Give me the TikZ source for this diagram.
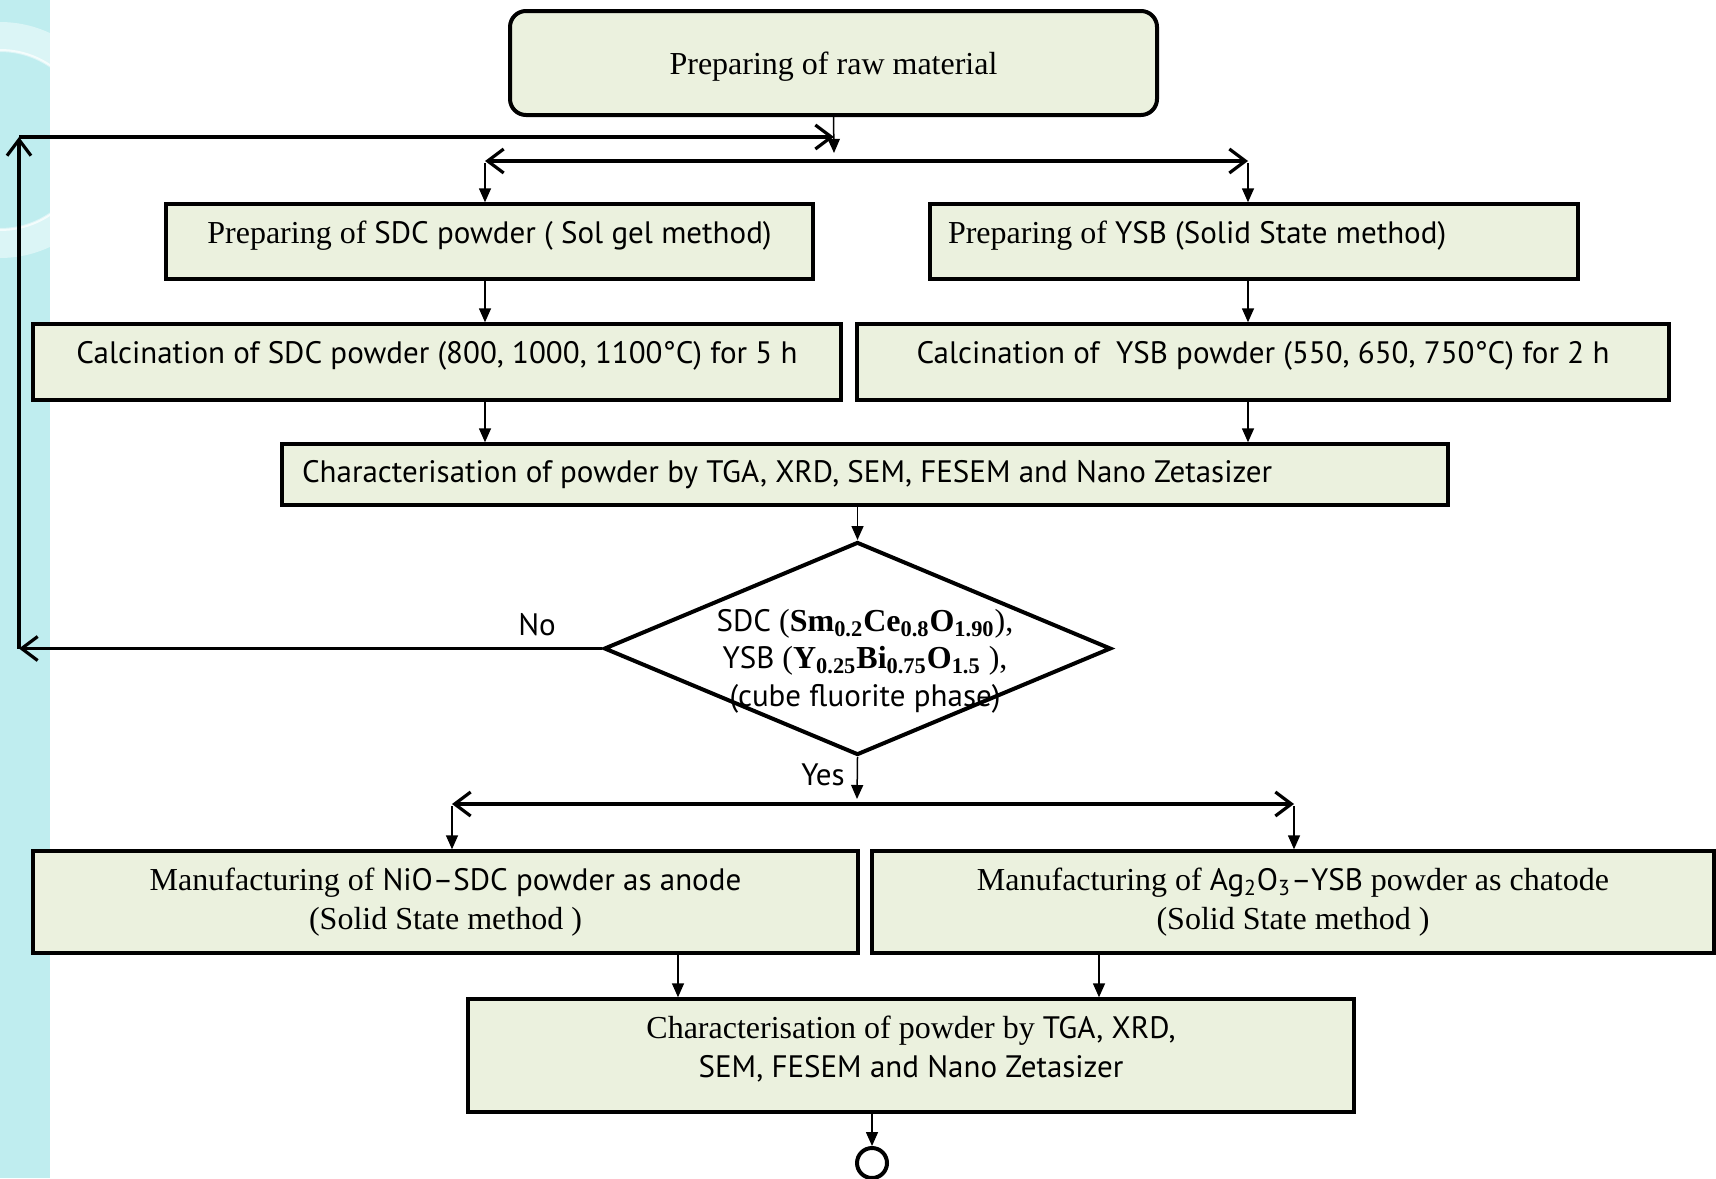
\documentclass[tikz,border=0pt]{standalone}
\usepackage{fontspec}
\setmainfont{Liberation Serif}
\newfontfamily\gillfont{PT Sans}
\newcommand\gill[1]{{\gillfont\fontsize{15.5}{19.5}\selectfont #1}}
\usetikzlibrary{shapes.geometric,arrows.meta}
\definecolor{boxfill}{HTML}{EBF1DE}
\definecolor{stripcol}{HTML}{BFEDEF}
\tikzset{
  stepbox/.style={draw, line width=1.7pt, fill=boxfill, inner sep=0pt, align=center,
    font=\fontsize{16}{19.5}\selectfont},
  flow/.style={line width=0.75pt, -{Triangle[length=7pt,width=6pt]}},
  bus/.style={line width=1.6pt, -{Straight Barb[length=8pt,width=12pt,line width=1.6pt]}},
}
\begin{document}
\begin{tikzpicture}[x=0.5pt,y=-0.5pt]
    \useasboundingbox (0,0) rectangle (1716,1178);
    % slide background strip
    \fill[stripcol] (0,0) rectangle (50,1178);
    \begin{scope}
        \clip (0,0) rectangle (50,1178);
        \draw[white, opacity=0.45, line width=15pt] (0,140) circle[radius=51.5pt];
        \draw[white, opacity=0.7, line width=1pt] (0,140) circle[radius=45pt];
    \end{scope}

    % first stage
    \node[stepbox, rounded corners=8pt, line width=2pt, minimum width=323.5pt, minimum height=52pt, text depth=0pt]
        (raw) at (833.5,63) {Preparing of raw material};
    \node[stepbox, minimum width=323.5pt, minimum height=37.5pt, text depth=9pt]
        (sdcprep) at (489.5,241.5) {Preparing of \gill{SDC powder ( Sol gel method)}};
    \node[stepbox, minimum height=37.5pt, text depth=9pt, text width=306pt, inner xsep=9pt, align=flush left]
        (ysbprep) at (1254,241.5) {Preparing of \gill{YSB (Solid State method)}};
    \node[stepbox, minimum width=404pt, minimum height=38pt, text depth=10pt]
        (sdccalc) at (437,362) {\gill{Calcination of SDC powder (800, 1000, 1100°C) for 5 h}};
    \node[stepbox, minimum width=406pt, minimum height=38pt, text depth=10pt]
        (ysbcalc) at (1263,362) {\gill{Calcination of\ \ YSB powder (550, 650, 750°C) for 2 h}};
    \node[stepbox, minimum height=30.5pt, text width=563pt, inner xsep=10pt, align=flush left]
        (char1) at (865,474.5) {\gill{Characterisation of powder by TGA, XRD, SEM, FESEM and Nano Zetasizer}};

    % decision
    \node[draw, diamond, line width=2pt, fill=white, inner sep=0pt,
        minimum width=253.5pt, minimum height=106.5pt] (dec) at (857.5,648.5) {};
    \node[align=center, font=\fontsize{16}{18.75}\selectfont] (dectext) at (865,661)
        {\gill{SDC} (\textbf{Sm\textsubscript{0.2}Ce\textsubscript{0.8}O\textsubscript{1.90}}),\\
         \gill{YSB} (\textbf{Y\textsubscript{0.25}Bi\textsubscript{0.75}O\textsubscript{1.5}} ),\\
         \gill{(cube fluorite phase)}};
    \node (nolbl) at (537,625) {\gill{No}};
    \node (yeslbl) at (823,775) {\gill{Yes}};

    % second stage
    \node[stepbox, minimum width=412.5pt, minimum height=51pt]
        (nio) at (445.5,902) {Manufacturing of \gill{NiO–SDC powder as anode}\\(Solid State method )};
    \node[stepbox, minimum width=421pt, minimum height=51pt]
        (ag) at (1293,902) {Manufacturing of \gill{Ag\textsubscript{2}O\textsubscript{3}–YSB} powder as chatode\\(Solid State method )};
    \node[stepbox, minimum width=443pt, minimum height=56.5pt, text depth=9pt]
        (char2) at (911,1055.5) {Characterisation of powder by \gill{TGA, XRD,}\\\gill{SEM, FESEM and Nano Zetasizer}};
    \node[draw, circle, line width=2pt, fill=white, minimum size=15pt, inner sep=0pt]
        (stop) at (872,1163) {};

    % junction points
    \coordinate (rawin) at (834,153);
    \coordinate (split1) at (834,161);
    \coordinate (sdcbr) at (485,161);
    \coordinate (ysbbr) at (1248,161);
    \coordinate (loopbl) at (19,648.5);
    \coordinate (looptl) at (19,137);
    \coordinate (loopend) at (834,137);
    \coordinate (split2) at (857,804);
    \coordinate (niobr) at (452,804);
    \coordinate (agbr) at (1294,804);
    \coordinate (leftdrop) at (678,0);
    \coordinate (rightdrop) at (1099,0);

    % connectors
    \draw[flow] (raw.south) -- (rawin);
    \draw[bus] (split1) -- (sdcbr);
    \draw[bus] (split1) -- (ysbbr);
    \draw[flow] ([yshift=-1pt]sdcbr) -- (sdcbr |- sdcprep.north);
    \draw[flow] ([yshift=-1pt]ysbbr) -- (ysbbr |- ysbprep.north);
    \draw[flow] (sdcprep.south -| sdcbr) -- (sdccalc.north -| sdcbr);
    \draw[flow] (ysbprep.south -| ysbbr) -- (ysbcalc.north -| ysbbr);
    \draw[flow] (sdccalc.south -| sdcbr) -- (char1.north -| sdcbr);
    \draw[flow] (ysbcalc.south -| ysbbr) -- (char1.north -| ysbbr);
    \draw[flow] (char1.south -| dec.north) -- (dec.north);

    % back loop (No)
    \draw[bus] (dec.west) -- (loopbl);
    \draw[bus] (loopbl) -- (looptl);
    \draw[bus] (looptl) -- (loopend);

    % Yes branch
    \draw[flow] (dec.south) -- ([yshift=2.5pt]split2);
    \draw[bus] (split2) -- (niobr);
    \draw[bus] (split2) -- (agbr);
    \draw[flow] ([yshift=-1pt]niobr) -- (niobr |- nio.north);
    \draw[flow] ([yshift=-1pt]agbr) -- (agbr |- ag.north);
    \draw[flow] (nio.south -| leftdrop) -- (char2.north -| leftdrop);
    \draw[flow] (ag.south -| rightdrop) -- (char2.north -| rightdrop);
    \draw[flow] (char2.south -| stop) -- (stop.north);
\end{tikzpicture}
\end{document}
